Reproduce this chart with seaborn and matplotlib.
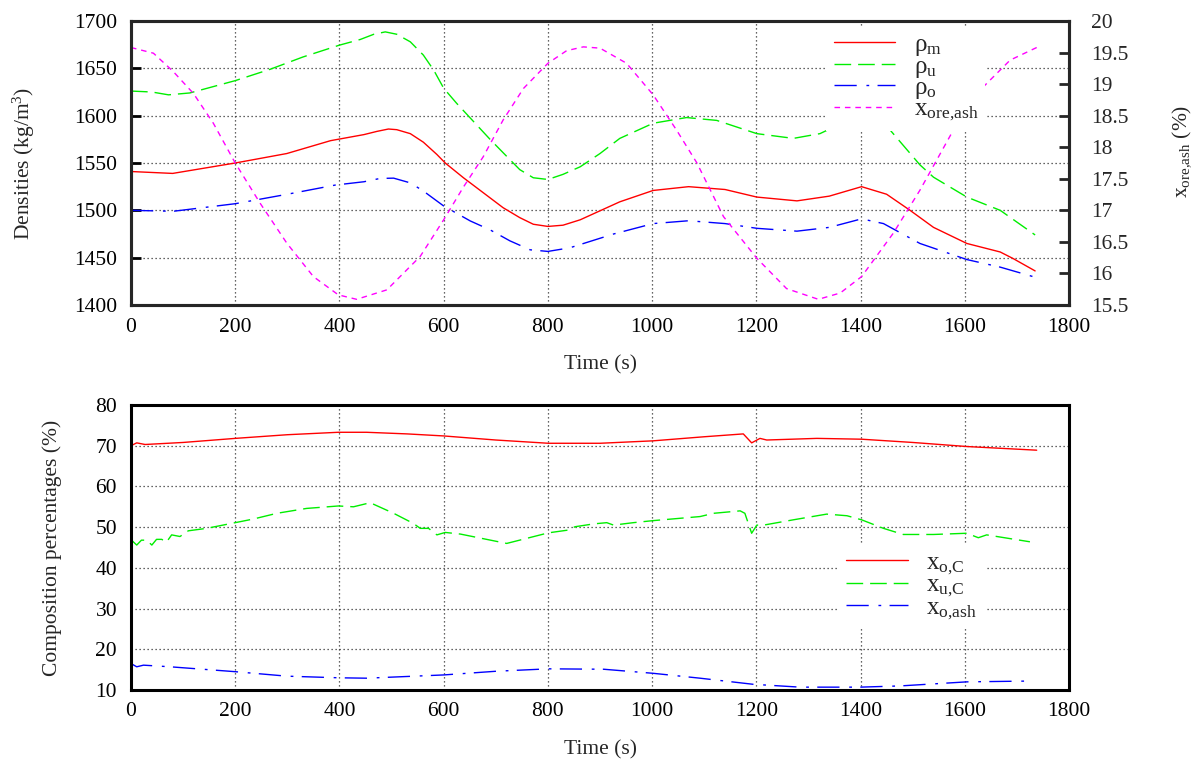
import matplotlib
matplotlib.use("Agg")
import matplotlib.pyplot as plt
import seaborn as sns

# ---------------- data (top panel) ----------------
t_m = [0, 80, 200, 299, 383, 447, 472, 494, 510, 536, 561, 587, 603, 638, 676, 714, 746, 772, 800, 829, 862, 938, 1002, 1070, 1140, 1201, 1278, 1340, 1402, 1450, 1495, 1540, 1604, 1668, 1693, 1735]
rho_m = [1541, 1539, 1550, 1560, 1573.6, 1580, 1583.4, 1585.9, 1585.2, 1581, 1572, 1559, 1550, 1534.4, 1518.6, 1502.8, 1492.3, 1485.3, 1483, 1484.3, 1490, 1509, 1521, 1525, 1522, 1514, 1510, 1515, 1525, 1517, 1500, 1482, 1465, 1456, 1449, 1436]

t_u = [0, 40, 72, 113, 200, 267, 330, 400, 440, 466, 488, 510, 536, 561, 581, 600, 625, 657, 689, 721, 746, 772, 800, 829, 862, 900, 938, 1002, 1066, 1124, 1201, 1271, 1322, 1399, 1444, 1514, 1540, 1604, 1668, 1735]
rho_u = [1626, 1625, 1622, 1624, 1637, 1649, 1662, 1674.5, 1680.5, 1686, 1688.5, 1686, 1678, 1664, 1648, 1629, 1613, 1594, 1575, 1557, 1543, 1534.4, 1532.6, 1538, 1546, 1560, 1576, 1592, 1598, 1595, 1581, 1576, 1581, 1601, 1593, 1548, 1535, 1514, 1500, 1474]

t_o = [0, 81, 200, 300, 392, 447, 478, 504, 536, 561, 600, 651, 689, 727, 766, 800, 842, 926, 1002, 1070, 1140, 1201, 1278, 1340, 1402, 1444, 1514, 1604, 1668, 1731]
rho_o = [1500, 1499, 1507, 1517, 1526.7, 1530.2, 1533.7, 1534, 1529, 1520.4, 1504.6, 1488.8, 1479.4, 1467.8, 1458.3, 1456.6, 1460.4, 1475, 1486, 1489, 1486, 1481, 1478, 1482, 1491, 1486, 1465, 1448, 1440, 1430]

t_a = [0, 43, 81, 120, 158, 200, 248, 299, 350, 398, 433, 491, 555, 600, 638, 676, 714, 753, 800, 836, 868, 900, 951, 1002, 1047, 1086, 1137, 1201, 1258, 1319, 1361, 1402, 1463, 1514, 1578, 1636, 1687, 1738]
x_ash = [19.58, 19.49, 19.2, 18.85, 18.38, 17.75, 17.11, 16.48, 15.95, 15.66, 15.59, 15.74, 16.27, 16.85, 17.37, 17.85, 18.43, 18.93, 19.33, 19.53, 19.59, 19.57, 19.33, 18.83, 18.27, 17.75, 16.9, 16.24, 15.76, 15.59, 15.69, 15.95, 16.64, 17.32, 18.27, 18.96, 19.38, 19.58]

# ---------------- data (bottom panel) ----------------
t_oc = [0, 11, 27, 100, 200, 300, 398, 452, 530, 600, 700, 801, 900, 1002, 1100, 1175, 1191, 1207, 1220, 1316, 1402, 1500, 1604, 1738]
x_oc = [70, 70.7, 70.3, 70.8, 71.8, 72.7, 73.3, 73.3, 72.9, 72.4, 71.4, 70.6, 70.6, 71.2, 72.2, 72.9, 70.7, 71.8, 71.4, 71.8, 71.6, 70.8, 69.8, 68.9]

t_uc = [1, 11, 20, 30, 40, 49, 59, 68, 78, 94, 110, 145, 200, 235, 280, 337, 398, 427, 459, 504, 542, 555, 571, 587, 603, 632, 721, 801, 840, 852, 888, 913, 926, 964, 1002, 1092, 1118, 1169, 1178, 1191, 1201, 1214, 1271, 1335, 1374, 1402, 1444, 1482, 1540, 1604, 1626, 1642, 1725]
x_uc = [46.8, 45.6, 46.8, 46.8, 45.6, 47.0, 47.0, 46.3, 48.1, 47.7, 49.1, 49.7, 51.1, 52.0, 53.4, 54.6, 55.2, 55.0, 56.0, 53.4, 50.9, 49.7, 49.7, 48.1, 48.7, 48.3, 46.0, 48.6, 49.3, 50.1, 50.8, 51.1, 50.5, 51.1, 51.6, 52.6, 53.4, 54.0, 53.4, 48.5, 50.5, 50.5, 51.8, 53.2, 52.8, 51.8, 49.7, 48.2, 48.2, 48.5, 47.4, 48.1, 46.4]

t_oa = [0, 11, 24, 75, 200, 299, 398, 452, 600, 700, 801, 907, 1002, 1092, 1194, 1284, 1399, 1476, 1604, 1725]
x_oa = [16.5, 15.7, 16.1, 15.7, 14.5, 13.4, 13.0, 12.9, 13.7, 14.6, 15.2, 15.1, 14.1, 12.9, 11.4, 10.7, 10.7, 11.0, 12.0, 12.2]

x_ticks = [0, 200, 400, 600, 800, 1000, 1200, 1400, 1600, 1800]
rho_ticks = [1400, 1450, 1500, 1550, 1600, 1650, 1700]
ash_ticks = [15.5, 16, 16.5, 17, 17.5, 18, 18.5, 19, 19.5, 20]
comp_ticks = [10, 20, 30, 40, 50, 60, 70, 80]

# ---------------- style ----------------
sns.set_style("white")
plt.rcParams['font.family'] = ['Liberation Serif', 'DejaVu Serif']
plt.rcParams['mathtext.default'] = 'regular'
FS = 15.5
LFS = 18
plt.rcParams['font.size'] = FS

RED, GREEN, BLUE, MAG = '#ff0000', '#00ee00', '#0000ff', '#ff00ff'
LS_SOLID = '-'
LS_DASH = (0, (12, 5))
LS_DASHDOT = (0, (16, 7, 2, 6))
LS_DOT = (0, (4, 3.5))
LW = 1.0

fig = plt.figure(figsize=(11.93, 7.60), dpi=100)
W, H = 1193, 760
ax1 = fig.add_axes([131 / W, 1 - 305 / H, 938 / W, 284 / H])
ax3 = fig.add_axes([131 / W, 1 - 690 / H, 938 / W, 285 / H])


def style_axes(ax):
    for s in ax.spines.values():
        s.set_linewidth(2.2)
        s.set_color('black')
    ax.tick_params(axis='both', direction='in', length=7, width=2, colors='black',
                   labelsize=FS, labelcolor='black')
    ax.tick_params(axis='x', pad=9)
    ax.tick_params(axis='y', pad=10)
    ax.grid(True, color='#333333', linestyle=(0, (1, 2.2)), linewidth=0.9)
    ax.set_xlim(0, 1800)
    ax.set_xticks(x_ticks)


LEG_KW = dict(frameon=True, fancybox=False, framealpha=1, edgecolor='none',
              facecolor='white', fontsize=LFS, handlelength=2.45, handletextpad=0.75,
              labelspacing=-0.12, borderpad=0.3, borderaxespad=0)

# ---------------- top panel ----------------
style_axes(ax1)
sns.lineplot(x=t_m, y=rho_m, ax=ax1, color=RED, linestyle=LS_SOLID, lw=LW, label=r'$\rho_{m}$')
sns.lineplot(x=t_u, y=rho_u, ax=ax1, color=GREEN, linestyle=LS_DASH, lw=LW, label=r'$\rho_{u}$')
sns.lineplot(x=t_o, y=rho_o, ax=ax1, color=BLUE, linestyle=LS_DASHDOT, lw=LW, label=r'$\rho_{o}$')
ax1.set_ylim(1400, 1700)
ax1.set_yticks(rho_ticks)
ax1.set_ylabel('Densities (kg/m$^3$)', fontsize=FS)
ax1.set_xlabel('Time (s)', fontsize=FS)

ax2 = ax1.twinx()
sns.lineplot(x=t_a, y=x_ash, ax=ax2, color=MAG, linestyle=LS_DOT, lw=LW, label=r'$x_{ore{,}ash}$')
ax2.set_ylim(15.5, 20)
ax2.set_yticks(ash_ticks)
ax2.set_yticklabels([f'{v:g}' for v in ash_ticks])
for s in ax2.spines.values():
    s.set_linewidth(2.2)
ax2.tick_params(axis='y', direction='in', length=7, width=2, labelsize=FS, pad=16)
ax2.grid(False)
ax2.set_ylabel(r'$x_{ore{,}ash}$ (%)', fontsize=FS)
ax2.yaxis.set_label_coords(1.1077, 0.54)
ax1.yaxis.set_label_coords(-0.1, 0.5)
ax1.xaxis.set_label_coords(0.5, -0.176)

h1, l1 = ax1.get_legend_handles_labels()
h2, l2 = ax2.get_legend_handles_labels()
if ax1.get_legend():
    ax1.get_legend().remove()
if ax2.get_legend():
    ax2.get_legend().remove()
leg = ax2.legend(h1 + h2, l1 + l2, loc='upper left',
                 bbox_to_anchor=(826 / W, 1 - 26 / H), bbox_transform=fig.transFigure,
                 **LEG_KW)
leg.set_zorder(5)

# ---------------- bottom panel ----------------
style_axes(ax3)
sns.lineplot(x=t_oc, y=x_oc, ax=ax3, color=RED, linestyle=LS_SOLID, lw=LW, label=r'$x_{o{,}C}$')
sns.lineplot(x=t_uc, y=x_uc, ax=ax3, color=GREEN, linestyle=LS_DASH, lw=LW, label=r'$x_{u{,}C}$')
sns.lineplot(x=t_oa, y=x_oa, ax=ax3, color=BLUE, linestyle=LS_DASHDOT, lw=LW, label=r'$x_{o{,}ash}$')
ax3.set_ylim(10, 80)
ax3.set_yticks(comp_ticks)
ax3.set_ylabel('Composition percentages (%)', fontsize=FS)
ax3.set_xlabel('Time (s)', fontsize=FS)
ax3.yaxis.set_label_coords(-0.0736, 0.5)
ax3.xaxis.set_label_coords(0.5, -0.175)
ax3.legend(loc='upper left', bbox_to_anchor=(839 / W, 1 - 544 / H), bbox_transform=fig.transFigure,
           **LEG_KW)

fig.savefig('out.png', dpi=100)
